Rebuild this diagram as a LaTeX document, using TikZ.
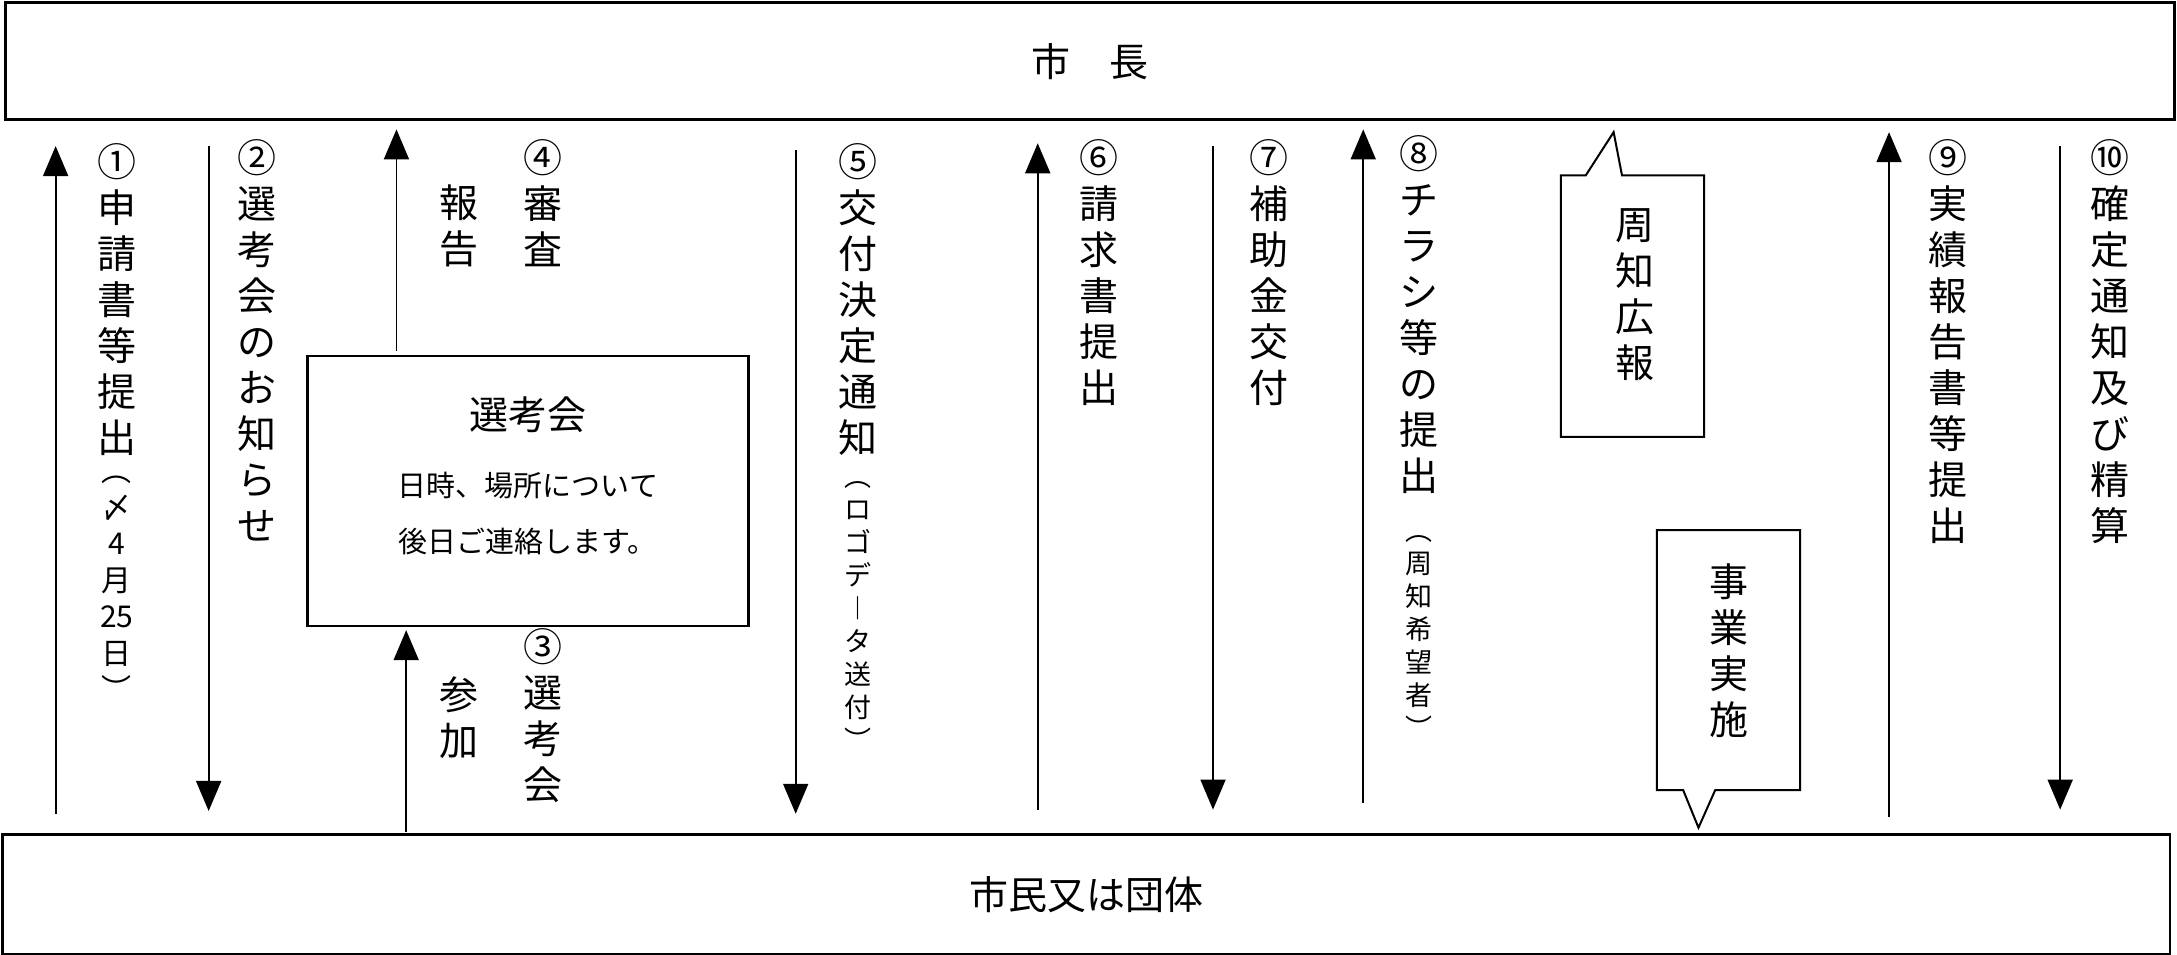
\documentclass[tikz,border=0pt]{standalone}
\usepackage{fontspec}
\setmainfont{Noto Sans CJK JP}
\usetikzlibrary{arrows.meta}
\begin{document}
\begin{tikzpicture}[x=1.391pt,y=-1.391pt,
  box/.style={draw,line width=2.6pt},
  arr/.style={line width=1.8pt,-{Triangle[length=30pt,width=25pt]}},
  vtext/.style={anchor=north,align=center,inner sep=0pt,font=\fontsize{39}{46}\selectfont},
  vsmall/.style={anchor=north,align=center,inner sep=0pt,font=\fontsize{27}{33}\selectfont},
  vmid/.style={anchor=north,align=center,inner sep=0pt,font=\fontsize{30}{36.5}\selectfont}]
\useasboundingbox (0,0) rectangle (1565,686);
\node[box,minimum width=1559*1.391pt,minimum height=84*1.391pt,font=\fontsize{39}{40}\selectfont] (mayor) at (783.5,44) {市\hspace{1em}長};
\node[box,minimum width=1558*1.391pt,minimum height=86*1.391pt,font=\fontsize{39}{40}\selectfont] (citizen) at (781,643) {市民又は団体};
\node[box,minimum width=317*1.391pt,minimum height=194*1.391pt] (sel) at (379.5,353) {};
\node[inner sep=0pt,font=\fontsize{39}{40}\selectfont] (selt) at (379.5,298) {選考会};
\node[inner sep=0pt,font=\fontsize{29}{30}\selectfont] (sel2) at (379.5,349) {日時、場所について};
\node[inner sep=0pt,font=\fontsize{29}{30}\selectfont] (sel3) at (379.5,389) {後日ご連絡します。};
% callouts
\draw[line width=2pt] (1140,126) -- (1160,95) -- (1166,126) -- (1225,126) -- (1225,314) -- (1122,314) -- (1122,126) -- cycle;
\node[vtext] (kouhou) at (1175,150) {周\\知\\広\\報};
\draw[line width=2pt] (1191,381) -- (1294,381) -- (1294,568) -- (1233,568) -- (1221,595) -- (1210,568) -- (1191,568) -- cycle;
\node[vtext] (jigyo) at (1243,405) {事\\業\\実\\施};
% arrows
\foreach \n/\x/\ya/\yb in {a1/40/585/105, a2/150/105/583, a4/285/252/93, a3/292/598/453, a5/572/108/585, a6/746/582/103, a7/872/105/582, a8/980/577/93, a9/1358/587/95, a10/1481/105/582}{
  \coordinate (\n s) at (\x,\ya); \coordinate (\n e) at (\x,\yb);
  \draw[arr] (\n s) -- (\n e);
}
% labels
\node[vtext] (l1) at (84,103) {①\\申\\請\\書\\等\\提\\出};
\node[vmid] (l1b) at (84,342) {︵\\〆\\4\\月\\25\\日\\︶};
\node[vtext] (l2) at (185,100) {②\\選\\考\\会\\の\\お\\知\\ら\\せ};
\node[vtext] (l4) at (390,100) {④\\審\\査};
\node[vtext] (l4b) at (330,133) {報\\告};
\node[vtext] (l3) at (390,452) {③\\選\\考\\会};
\node[vtext] (l3b) at (330,486) {参\\加};
\node[vtext] (l5) at (617,103) {⑤\\交\\付\\決\\定\\通\\知};
\node[vsmall] (l5b) at (617,346) {︵\\ロ\\ゴ\\デ\\︱\\タ\\送\\付\\︶};
\node[vtext] (l6) at (790,100) {⑥\\請\\求\\書\\提\\出};
\node[vtext] (l7) at (912,100) {⑦\\補\\助\\金\\交\\付};
\node[vtext] (l8) at (1020,97) {⑧\\チ\\ラ\\シ\\等\\の\\提\\出};
\node[vsmall] (l8b) at (1020,385) {︵\\周\\知\\希\\望\\者\\︶};
\node[vtext] (l9) at (1400,100) {⑨\\実\\績\\報\\告\\書\\等\\提\\出};
\node[vtext] (l10) at (1517,100) {⑩\\確\\定\\通\\知\\及\\び\\精\\算};
\end{tikzpicture}
\end{document}
